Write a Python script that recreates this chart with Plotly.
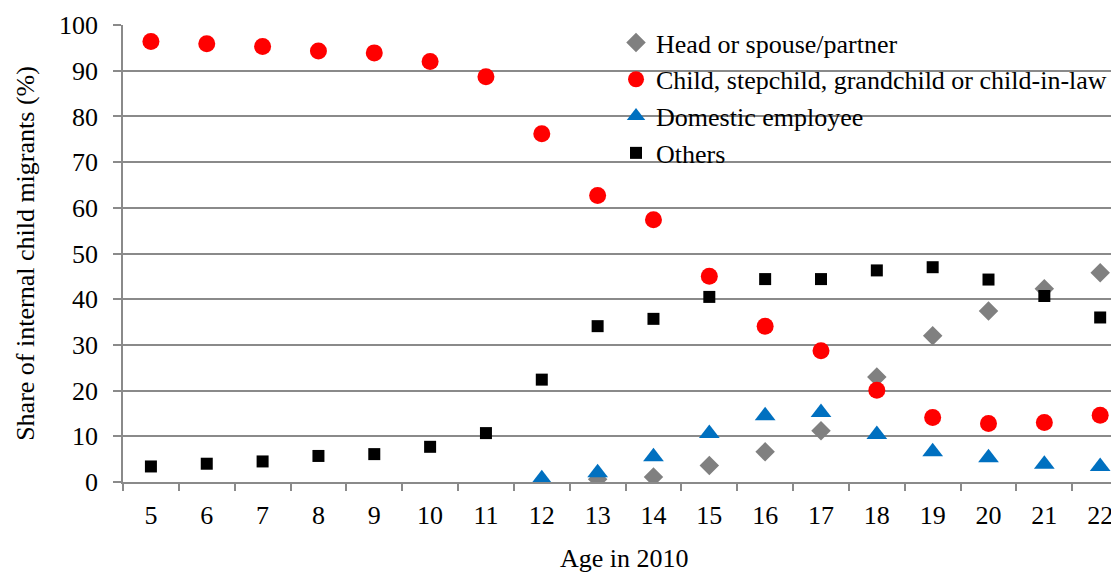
import plotly.graph_objects as go

ages = list(range(5, 23))
head = [None]*8 + [0.6, 1.1, 3.6, 6.6, 11.2, 23.0, 32.0, 37.4, 42.3, 45.8]
child = [96.4, 95.9, 95.3, 94.3, 93.9, 92.0, 88.7, 76.2, 62.7, 57.4, 45.0,
         34.1, 28.7, 20.1, 14.1, 12.8, 13.0, 14.6]
domestic = [None]*7 + [0.7, 2.0, 5.5, 10.6, 14.5, 15.2, 10.4, 6.6, 5.3, 3.9, 3.4]
others = [3.4, 4.0, 4.5, 5.7, 6.1, 7.7, 10.7, 22.4, 34.1, 35.7, 40.5,
          44.4, 44.4, 46.3, 47.0, 44.3, 40.7, 36.0]
yticks = list(range(0, 101, 10))
boundaries = [a - 0.5 for a in ages] + [ages[-1] + 0.5]

font = "Liberation Serif"
grid = "#8a8a8a"

fig = go.Figure()
fig.add_trace(go.Scatter(x=ages, y=head, mode="markers", name="Head or spouse/partner",
                         marker=dict(symbol="diamond", size=15, color="#808080")))
fig.add_trace(go.Scatter(x=ages, y=child, mode="markers",
                         name="Child, stepchild, grandchild or child-in-law",
                         marker=dict(symbol="circle", size=17, color="#ff0000")))
fig.add_trace(go.Scatter(x=ages, y=domestic, mode="markers", name="Domestic employee",
                         marker=dict(symbol="triangle-up", size=18, color="#0070c0")))
fig.add_trace(go.Scatter(x=ages, y=others, mode="markers", name="Others",
                         marker=dict(symbol="square", size=12, color="#000000")))

fig.update_layout(
    width=1111, height=564,
    margin=dict(l=115, r=0, t=17, b=90),
    paper_bgcolor="white", plot_bgcolor="white",
    font=dict(family=font, size=26, color="black"),
    showlegend=True,
    legend=dict(x=0.495, y=1.013, xanchor="left", yanchor="top",
                bgcolor="rgba(0,0,0,0)", font=dict(size=26, family=font),
                itemwidth=30, tracegroupgap=0, borderwidth=0),
    xaxis=dict(range=[4.5, 22.337], tickvals=ages, ticktext=[str(a) for a in ages],
               ticks="", showline=True, linecolor=grid, linewidth=1.5,
               showgrid=False, zeroline=False, automargin=False,
               tickfont=dict(size=26, family=font), ticklabelstandoff=9,
               minor=dict(tickvals=boundaries, ticks="outside", ticklen=7,
                          tickcolor=grid, tickwidth=1.5, showgrid=False)),
    yaxis=dict(range=[0, 100], tickvals=yticks, ticks="outside", ticklen=8,
               tickcolor=grid, tickwidth=1.5, showline=True, linecolor=grid,
               linewidth=1.5, showgrid=True, gridcolor=grid, gridwidth=1.5,
               zeroline=False, automargin=False, ticklabelstandoff=10,
               tickfont=dict(size=26, family=font),
               title=dict(text="Share of internal child migrants (%)",
                          font=dict(size=26, family=font), standoff=17)),
    annotations=[dict(text="Age in 2010", xref="paper", yref="paper",
                      x=0.5035, y=0, xanchor="center", yanchor="middle",
                      yshift=-76, showarrow=False,
                      font=dict(size=26, family=font, color="black"))],
)

fig.write_html("out.html")
